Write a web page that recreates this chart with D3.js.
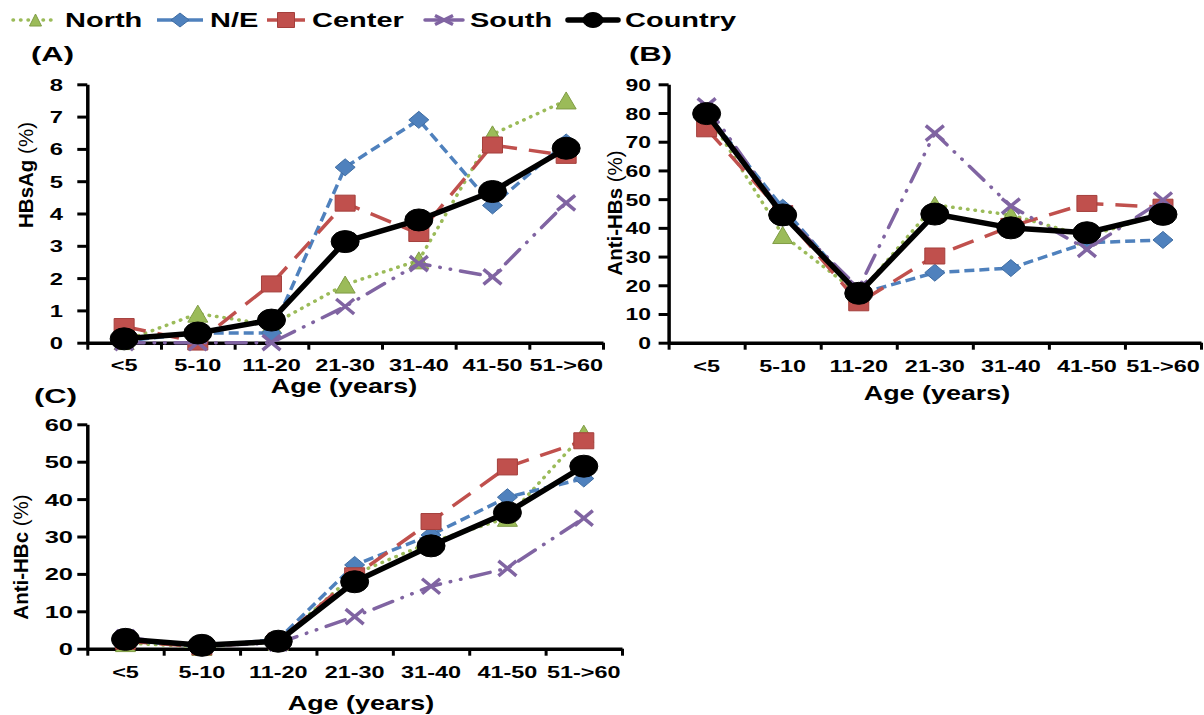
<!DOCTYPE html>
<html>
<head>
<meta charset="utf-8">
<script src="https://d3js.org/d3.v7.min.js"></script>
<style>
  body { margin: 0; background: #fff; }
  text { font-family: "Liberation Sans", Arial, sans-serif; font-weight: bold; fill: #000; }
</style>
</head>
<body>
<div id="chart"></div>
<script>
// ---- data ----
var ageGroups = ["<5", "5-10", "11-20", "21-30", "31-40", "41-50", "51->60"];
var seriesNames = ["North", "N/E", "Center", "South", "Country"];

// (A) HBsAg (%)
var hbsagNorth   = [0.05, 0.9, 0.55, 1.8, 2.55, 6.45, 7.5];
var hbsagNE      = [0.05, 0.3, 0.3, 5.43, 6.9, 4.25, 6.2];
var hbsagCenter  = [0.5, 0.02, 1.82, 4.32, 3.38, 6.12, 5.8];
var hbsagSouth   = [0, 0, 0, 1.12, 2.45, 2.04, 4.33];
var hbsagCountry = [0.12, 0.3, 0.7, 3.13, 3.8, 4.68, 6.02];

// (B) Anti-HBs (%)
var antiHbsNorth   = [80, 37.5, 17, 48, 44.5, 37, 45];
var antiHbsNE      = [80, 47, 17, 24.4, 26, 34.8, 35.8];
var antiHbsCenter  = [74.5, 45, 13.9, 30.2, 40.5, 48.5, 47.2];
var antiHbsSouth   = [82.5, 45, 19, 73, 47.6, 32.5, 49.7];
var antiHbsCountry = [79.8, 44.5, 17.2, 44.8, 40, 38.3, 44.7];

// (C) Anti-HBc (%)
var antiHbcNorth   = [1.5, 0.5, 1.8, 20, 28.5, 35, 57.5];
var antiHbcNE      = [2.2, 0.6, 2.5, 22.4, 30.4, 40.5, 45.5];
var antiHbcCenter  = [2, 0.5, 2, 19.5, 34, 48.6, 55.6];
var antiHbcSouth   = [3, 0.8, 1.5, 8.6, 16.7, 21.5, 34.9];
var antiHbcCountry = [2.5, 0.9, 2, 17.9, 27.5, 36.4, 48.8];

var hbsagTicks   = [0, 1, 2, 3, 4, 5, 6, 7, 8];
var antiHbsTicks = [0, 10, 20, 30, 40, 50, 60, 70, 80, 90];
var antiHbcTicks = [0, 10, 20, 30, 40, 50, 60];

// ---- styles ----
var styles = [
  { color: "#9BBB59", edge: "#7F9C44", dash: "0.5,7", cap: "round", width: 3.5, marker: "triangle", mw: 20, mh: 17 },
  { color: "#4F81BD", edge: "#3F6DA3", dash: "10,5", cap: "butt", width: 3.5, marker: "diamond", mw: 20, mh: 17 },
  { color: "#C0504D", edge: "#A43F3C", dash: "22,12", cap: "butt", width: 3.5, marker: "square", mw: 20, mh: 16 },
  { color: "#8064A2", edge: "#8064A2", dash: "20,10,0.5,10,0.5,10", cap: "round", width: 3.5, marker: "cross", mw: 18, mh: 15 },
  { color: "#000", edge: "#000", dash: null, cap: "round", width: 5.5, marker: "circle", mw: 28, mh: 22 }
];

var svg = d3.select("#chart").append("svg")
    .attr("width", 1204)
    .attr("height", 715);

function markerPath(type, w, h) {
  var a = w / 2, b = h / 2;
  if (type == "triangle") return "M0," + (-b) + "L" + a + "," + b + "L" + (-a) + "," + b + "Z";
  if (type == "diamond") return "M0," + (-b) + "L" + a + ",0L0," + b + "L" + (-a) + ",0Z";
  if (type == "square") return "M" + (-a) + "," + (-b) + "h" + w + "v" + h + "h" + (-w) + "Z";
  if (type == "cross") return "M" + (-a) + "," + (-b) + "L" + a + "," + b + "M" + (-a) + "," + b + "L" + a + "," + (-b);
  return "M" + (-a) + ",0A" + a + "," + b + " 0 1,0 " + a + ",0A" + a + "," + b + " 0 1,0 " + (-a) + ",0Z";
}

function addMarker(g, st, cx, cy, w, h) {
  var p = g.append("path")
      .attr("transform", "translate(" + cx + "," + cy + ")")
      .attr("d", markerPath(st.marker, w, h));
  if (st.marker == "cross") {
    p.attr("fill", "none").attr("stroke", st.color).attr("stroke-width", 3.5);
  } else {
    p.attr("fill", st.color).attr("stroke", st.edge).attr("stroke-width", 1);
  }
}

function stretchText(g, str, x, y, size, sx, anchor) {
  return g.append("text")
      .attr("transform", "translate(" + x + "," + y + ") scale(" + sx + ",1)")
      .attr("text-anchor", anchor || "start")
      .attr("font-size", size)
      .text(str);
}

function drawPanel(cfg, series) {
  var g = svg.append("g");

  var x = d3.scaleBand().domain(ageGroups).range([cfg.left, cfg.right]);
  var bw = x.bandwidth();
  var y = d3.scaleLinear().domain([0, cfg.ymax]).range([cfg.bottom, cfg.top]);
  var edges = d3.scaleLinear().domain([0, ageGroups.length]).range([cfg.left, cfg.right]);

  // y axis
  var yAxis = g.append("g")
      .attr("transform", "translate(" + cfg.left + ",0)")
      .call(d3.axisLeft(y).tickValues(cfg.ticks).tickSize(10).tickSizeOuter(0));
  yAxis.select(".domain").attr("stroke-width", 3.5);
  yAxis.selectAll(".tick line").attr("stroke-width", 3);
  yAxis.selectAll(".tick text")
      .attr("x", null).attr("dy", null)
      .attr("font-size", 17)
      .attr("font-family", null)
      .attr("transform", "translate(" + (cfg.labelEnd - cfg.left) + ",6) scale(" + cfg.ySx + ",1)");

  // x axis: boundary ticks + category labels
  var xTicks = g.append("g")
      .attr("transform", "translate(0," + cfg.bottom + ")")
      .call(d3.axisBottom(edges).tickValues(d3.range(ageGroups.length + 1)).tickFormat("").tickSize(7).tickSizeOuter(0));
  xTicks.select(".domain").attr("stroke-width", 3.5);
  xTicks.selectAll(".tick line").attr("stroke-width", 3);

  var xLabels = g.append("g")
      .attr("transform", "translate(0," + cfg.bottom + ")")
      .call(d3.axisBottom(x).tickSize(0));
  xLabels.select(".domain").remove();
  xLabels.selectAll(".tick text")
      .attr("y", null).attr("dy", null)
      .attr("font-size", 16.5)
      .attr("font-family", null)
      .attr("transform", "translate(0," + (cfg.xLabelY - cfg.bottom) + ") scale(1.42,1)");

  // titles
  stretchText(g, "Age (years)", cfg.xTitleX, cfg.xTitleY, 19.5, 1.38, "middle");
  stretchText(g, cfg.panel, cfg.panelX, cfg.panelY, 20, 1.55, "start");

  var yt = g.append("text")
      .attr("transform", "translate(" + cfg.yTitleX + "," + cfg.yTitleY + ") rotate(-90)")
      .attr("text-anchor", "middle")
      .attr("font-size", 20.5);
  yt.append("tspan").text(cfg.yTitle + " ");
  yt.append("tspan").attr("font-weight", "normal").text("(%)");

  // lines and markers
  series.forEach(function(vals, si) {
    var st = styles[si];
    var line = d3.line()
        .x(function(d, i) { return x(ageGroups[i]) + bw / 2; })
        .y(function(d) { return y(d); });
    g.append("path")
        .datum(vals)
        .attr("fill", "none")
        .attr("stroke", st.color)
        .attr("stroke-width", st.width)
        .attr("stroke-linecap", st.cap)
        .attr("stroke-linejoin", "round")
        .attr("stroke-dasharray", st.dash)
        .attr("d", line);
    vals.forEach(function(v, i) {
      addMarker(g, st, x(ageGroups[i]) + bw / 2, y(v), st.mw, st.mh);
    });
  });
}

drawPanel({
  left: 87.3, right: 603, top: 84.3, bottom: 342.7, ymax: 8, ticks: hbsagTicks,
  labelEnd: 63, ySx: 1.4, xLabelY: 371, xTitleX: 344, xTitleY: 393,
  panel: "(A)", panelX: 31, panelY: 61,
  yTitle: "HBsAg", yTitleX: 33, yTitleY: 175
}, [hbsagNorth, hbsagNE, hbsagCenter, hbsagSouth, hbsagCountry]);

drawPanel({
  left: 668.6, right: 1201, top: 84.3, bottom: 342.7, ymax: 90, ticks: antiHbsTicks,
  labelEnd: 651, ySx: 1.35, xLabelY: 371.5, xTitleX: 937, xTitleY: 400,
  panel: "(B)", panelX: 629, panelY: 61,
  yTitle: "Anti-HBs", yTitleX: 622, yTitleY: 213
}, [antiHbsNorth, antiHbsNE, antiHbsCenter, antiHbsSouth, antiHbsCountry]);

drawPanel({
  left: 87.3, right: 622, top: 424.3, bottom: 648.7, ymax: 60, ticks: antiHbcTicks,
  labelEnd: 73, ySx: 1.5, xLabelY: 678, xTitleX: 361, xTitleY: 710,
  panel: "(C)", panelX: 34, panelY: 403,
  yTitle: "Anti-HBc", yTitleX: 28, yTitleY: 557
}, [antiHbcNorth, antiHbcNE, antiHbcCenter, antiHbcSouth, antiHbcCountry]);

// ---- legend ----
var legendX = [13, 157, 267, 425, 568];
var legendLen = [45, 46, 38, 38, 50];
var legendMarkers = [[12, 12], [18, 14], [17, 15], [18, 9], [20, 15]];
var legend = svg.append("g");
seriesNames.forEach(function(name, i) {
  var st = styles[i];
  var x0 = legendX[i], x1 = legendX[i] + legendLen[i];
  legend.append("line")
      .attr("x1", x0).attr("x2", x1).attr("y1", 20).attr("y2", 20)
      .attr("stroke", st.color)
      .attr("stroke-width", st.width)
      .attr("stroke-linecap", st.cap)
      .attr("stroke-dasharray", i == 0 ? st.dash : null);
  addMarker(legend, st, (x0 + x1) / 2, 20, legendMarkers[i][0], legendMarkers[i][1]);
  stretchText(legend, name, x1 + 7, 26.7, 20, 1.45, "start");
});
</script>
</body>
</html>
